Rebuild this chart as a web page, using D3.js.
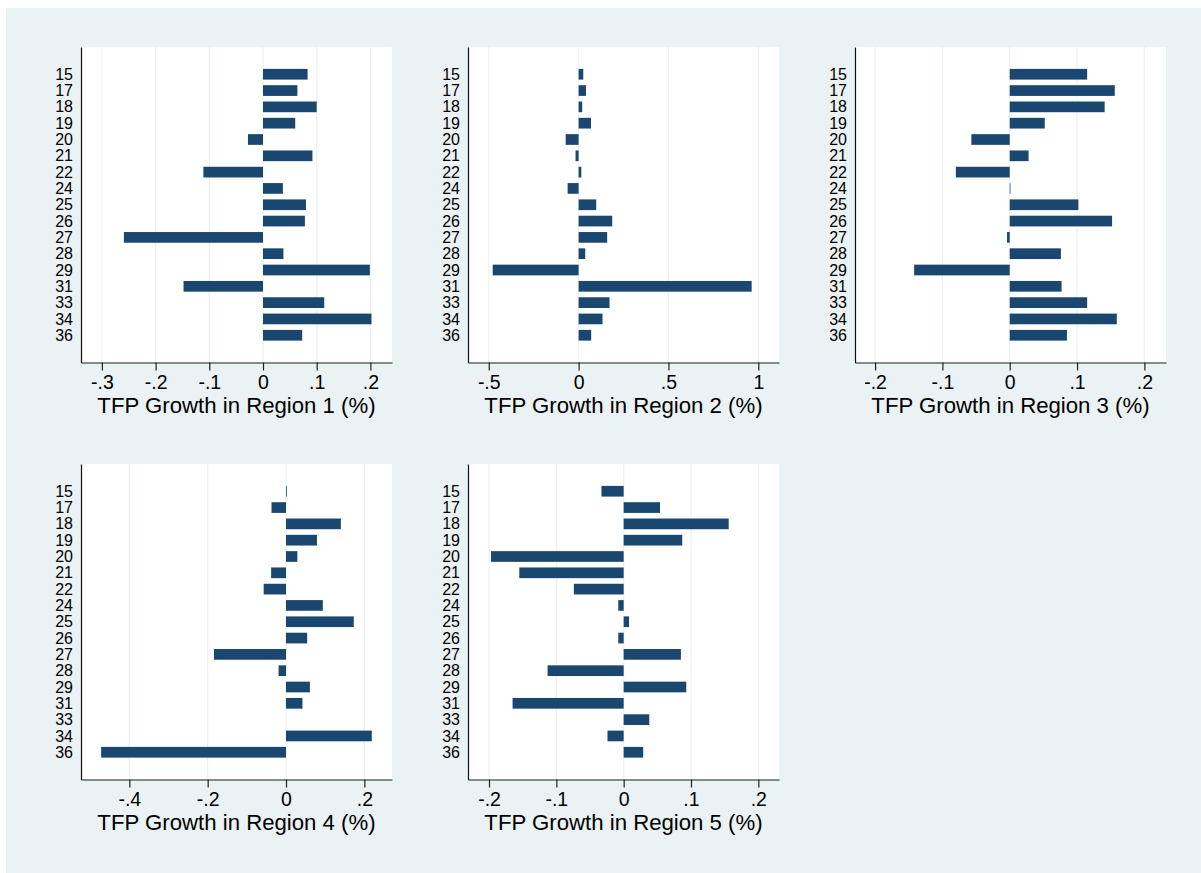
<!DOCTYPE html>
<html><head><meta charset="utf-8">
<script src="https://cdn.jsdelivr.net/npm/d3@7"></script>
<style>
html,body{margin:0;padding:0;background:#fff;}
svg{display:block;}
text{font-family:"Liberation Sans",Arial,sans-serif;fill:#000;}
</style></head>
<body>
<svg id="chart" width="1201" height="873"></svg>
<script>
const categories = ["15","17","18","19","20","21","22","24","25","26","27","28","29","31","33","34","36"];
const region1 = [0.083,0.064,0.100,0.060,-0.028,0.092,-0.111,0.037,0.080,0.078,-0.259,0.038,0.199,-0.148,0.114,0.202,0.073];
const region2 = [0.026,0.041,0.020,0.069,-0.072,-0.017,0.015,-0.061,0.098,0.187,0.159,0.037,-0.478,0.963,0.172,0.133,0.070];
const region3 = [0.115,0.156,0.141,0.052,-0.057,0.028,-0.080,0.001,0.102,0.152,-0.004,0.076,-0.142,0.077,0.115,0.159,0.085];
const region4 = [0.002,-0.037,0.140,0.079,0.029,-0.038,-0.057,0.094,0.173,0.054,-0.184,-0.019,0.061,0.042,0.000,0.219,-0.472];
const region5 = [-0.033,0.054,0.156,0.087,-0.197,-0.155,-0.074,-0.008,0.008,-0.008,0.085,-0.113,0.093,-0.165,0.038,-0.024,0.029];

const ticks1 = [-0.3,-0.2,-0.1,0,0.1,0.2];
const tickLabels1 = ["-.3","-.2","-.1","0",".1",".2"];
const ticks2 = [-0.5,0,0.5,1];
const tickLabels2 = ["-.5","0",".5","1"];
const ticks3 = [-0.2,-0.1,0,0.1,0.2];
const tickLabels3 = ["-.2","-.1","0",".1",".2"];
const ticks4 = [-0.4,-0.2,0,0.2];
const tickLabels4 = ["-.4","-.2","0",".2"];
const ticks5 = [-0.2,-0.1,0,0.1,0.2];
const tickLabels5 = ["-.2","-.1","0",".1",".2"];

const titles = ["TFP Growth in Region 1 (%)","TFP Growth in Region 2 (%)","TFP Growth in Region 3 (%)","TFP Growth in Region 4 (%)","TFP Growth in Region 5 (%)"];

const panels = [
  {values:region1, ticks:ticks1, labels:tickLabels1, domain:[-0.3389,0.2402], x:81,  y:47},
  {values:region2, ticks:ticks2, labels:tickLabels2, domain:[-0.6155,1.1152], x:468, y:47},
  {values:region3, ticks:ticks3, labels:tickLabels3, domain:[-0.2298,0.2321], x:855, y:47},
  {values:region4, ticks:ticks4, labels:tickLabels4, domain:[-0.5234,0.2706], x:81,  y:464},
  {values:region5, ticks:ticks5, labels:tickLabels5, domain:[-0.2312,0.2307], x:468, y:464}
];

const W = 311, H = 315.5;
const barColor = "#1a476f", gridColor = "#eaf2f3", bg = "#eaf2f3";

const svg = d3.select("#chart");
svg.append("rect").attr("x",6).attr("y",8).attr("width",1201-6).attr("height",873-8).attr("fill",bg);

panels.forEach((p,i)=>{
  const g = svg.append("g").attr("transform",`translate(${p.x},${p.y})`);
  const x = d3.scaleLinear().domain(p.domain).range([0,W]);
  const y = d3.scalePoint().domain(categories).range([0,H]).padding(1.67);
  g.append("rect").attr("width",W).attr("height",H).attr("fill","#fff");
  g.selectAll("line.grid").data(p.ticks).enter().append("line")
    .attr("x1",d=>x(d)).attr("x2",d=>x(d)).attr("y1",0).attr("y2",H)
    .attr("stroke",gridColor).attr("stroke-width",1.2);
  const bh = 10.7;
  g.selectAll("rect.bar").data(p.values).enter().append("rect")
    .attr("x",d=>Math.min(x(0),x(d)))
    .attr("width",d=>Math.abs(x(d)-x(0)))
    .attr("y",(d,j)=>y(categories[j])-bh/2)
    .attr("height",bh)
    .attr("fill",barColor);
  const xAxis = d3.axisBottom(x).tickValues(p.ticks).tickFormat((d,k)=>p.labels[k])
    .tickSizeInner(8).tickSizeOuter(0).tickPadding(5);
  const ax = g.append("g").attr("transform",`translate(0,${H})`).call(xAxis);
  ax.select(".domain").attr("stroke","#222").attr("stroke-width",1.2);
  ax.selectAll(".tick line").attr("stroke","#222").attr("stroke-width",1.2);
  ax.selectAll(".tick text").attr("font-size",19.5).attr("font-family","'Liberation Sans',Arial,sans-serif").attr("fill","#000");
  const yAxis = d3.axisLeft(y).tickSize(0).tickPadding(8);
  const ay = g.append("g").call(yAxis);
  ay.select(".domain").attr("stroke","#111").attr("stroke-width",1.2);
  ay.selectAll(".tick text").attr("font-size",16).attr("font-family","'Liberation Sans',Arial,sans-serif").attr("fill","#000");
  g.append("text").attr("x",W/2).attr("y",H+50).attr("text-anchor","middle")
    .attr("font-size",22.2).text(titles[i]);
});
</script>
</body></html>
